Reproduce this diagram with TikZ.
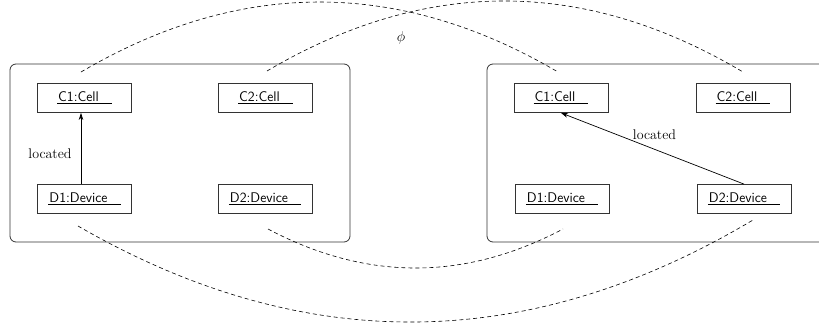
\documentclass[tikz,border=0pt]{standalone}
\usepackage{fontspec}
\usetikzlibrary{arrows.meta}
\tikzset{
  obj/.style={draw=black!80, line width=0.8pt, minimum width=94pt, minimum height=29pt,
    inner sep=0pt, font=\sffamily\fontsize{14}{17}\selectfont},
  frame/.style={draw=black!80, line width=0.8pt, rounded corners=6pt},
  link/.style={line width=0.7pt, -{Stealth[length=7pt,width=4.5pt,inset=2pt]}},
  lab/.style={font=\rmfamily\fontsize{14}{17}\selectfont, inner sep=0pt},
  mapline/.style={line width=0.6pt, dash pattern=on 4pt off 3pt}
}
\newcommand{\objname}[1]{\underline{\kern1pt #1\kern13pt}}
\begin{document}
\begin{tikzpicture}[x=1pt,y=-1pt]
\useasboundingbox (0,0) rectangle (819,330);
% frames
\draw[frame] (10,64) rectangle (350,242);
\draw[frame] (487,64) rectangle (840,242);
% left graph
\node[obj] (lc1) at (84.5,98) {\objname{C1:Cell}};
\node[obj] (lc2) at (265.5,98) {\objname{C2:Cell}};
\node[obj] (ld1) at (84.5,199) {\objname{D1:Device}};
\node[obj] (ld2) at (265,199) {\objname{D2:Device}};
% right graph
\node[obj] (rc1) at (561,98) {\objname{C1:Cell}};
\node[obj] (rc2) at (743,98) {\objname{C2:Cell}};
\node[obj] (rd1) at (562,199) {\objname{D1:Device}};
\node[obj] (rd2) at (744,199) {\objname{D2:Device}};
% located edges
\draw[link] ([xshift=-3.5pt]ld1.north) -- ([xshift=-3.5pt]lc1.south)
  node[lab, midway, xshift=-31pt, yshift=-5pt] (ll) {located};
\draw[link] (rd2.north) -- (rc1.south)
  node[lab, midway, xshift=2pt, yshift=14pt] (rl) {located};
% mapping phi
\coordinate (a1) at (81,72);
\coordinate (a2) at (558,72);
\coordinate (b1) at (267,71);
\coordinate (b2) at (743,72);
\coordinate (c1) at (78,226);
\coordinate (c2) at (753,220);
\coordinate (d1) at (268,229);
\coordinate (d2) at (563,229);
\draw[mapline] (a1) .. controls (240,-21.3) and (399,-21.3) .. (a2);
\draw[mapline] (b1) .. controls (425.7,-22.7) and (584.3,-22.3) .. (b2);
\draw[mapline] (c1) .. controls (303,356) and (528,354) .. (c2);
\draw[mapline] (d1) .. controls (366.3,281) and (464.7,281) .. (d2);
\node[lab] (phi) at (401,38) {$\phi$};
\end{tikzpicture}
\end{document}
